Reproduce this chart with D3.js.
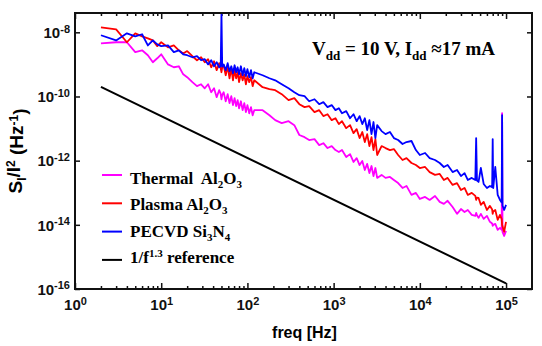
<!DOCTYPE html>
<html>
<head>
<meta charset="utf-8">
<script src="https://cdn.jsdelivr.net/npm/d3@7"></script>
<style>
  body { margin: 0; background: #fff; }
  svg { display: block; }
</style>
</head>
<body>
<div id="chart"></div>
<script>
// frequencies of the stitched spectra (Hz)
const freqs = [
  2, 3, 4, 5, 6, 7, 8, 9, 10, 12, 14, 16, 18, 20, 23, 26, 29, 32, 35, 38, 41, 44, 47, 49, 50, 51,
  53, 56, 59, 62, 65, 68, 71, 74, 77, 80, 84, 88, 92, 96, 100, 105, 110, 115, 120,
  150, 180, 210, 250, 300, 350, 400, 460, 520, 600, 680, 760, 850, 950, 1050, 1150, 1250,
  1400, 1550, 1700, 1850, 2000, 2150, 2300, 2450, 2600, 2750, 2900, 3050, 3200,
  3600, 4000, 4500, 5000, 5600, 6300, 7000, 8000, 9000, 10000, 11500, 13000, 15000, 17000,
  19000, 21000, 24000, 27000, 30000, 33000, 36000, 40000, 44000, 45000, 46000, 48000, 51000, 55000,
  60000, 65000, 69000, 70000, 71000, 75000, 80000, 85000, 89000, 90000, 91000, 95000, 100000
]

const thermal = [
  4.5e-9, 4.9e-9, 4.9e-9, 2.4e-9, 2.75e-9, 1.93e-9, 1.17e-9, 1.55e-9, 2.07e-9, 1.0e-9,
  8.15e-10, 8.75e-10, 4.9e-10, 4.0e-10, 2.8e-10, 2.1e-10, 2.4e-10, 1.8e-10, 2.4e-10, 1.36e-10,
  1.8e-10, 9.5e-11, 1.57e-10, 1.2e-10, 8.2e-11, 1.1e-10, 1.36e-10, 7.1e-11, 1.18e-10, 6.2e-11, 1.02e-10, 5.4e-11,
  8.85e-11, 5.0e-11, 7.7e-11, 4.3e-11, 7.1e-11, 3.75e-11, 6.2e-11, 3.25e-11, 5.4e-11, 3.0e-11,
  4.65e-11, 2.6e-11, 3.75e-11,
  3.75e-11, 2.6e-11, 1.83e-11, 1.48e-11, 1.7e-11, 1.28e-11, 6.3e-12, 5.4e-12, 4.4e-12, 4.7e-12,
  3.06e-12, 3.5e-12, 2.47e-12, 2.85e-12, 2.14e-12, 1.86e-12, 2.14e-12, 1.3e-12, 1.6e-12, 9.1e-13,
  1.2e-12, 7.3e-13, 9.75e-13, 5.1e-13, 7.9e-13, 4.1e-13, 6.8e-13, 3.3e-13, 5.9e-13, 2.9e-13,
  3.6e-13, 2.9e-13, 3.1e-13, 2.5e-13, 2.0e-13, 1.41e-13, 1.63e-13, 8.55e-14, 9.9e-14, 6.4e-14,
  7.4e-14, 5.97e-14, 7.95e-14, 5.2e-14, 4.5e-14, 5.6e-14, 3.6e-14, 2.2e-14, 3.1e-14, 2.5e-14,
  2.9e-14, 2.04e-14, 1.9e-14, 2.35e-14, 2.0e-14, 1.65e-14, 2.2e-14, 1.53e-14,
  1.9e-14, 1.24e-14, 1.1e-14, 9.3e-15, 1.0e-14, 1.07e-14, 7.0e-15, 8.05e-15, 7.0e-15, 3.0e-11, 6.0e-15, 4.5e-15, 6.5e-15
]

const plasma = [
  1.43e-8, 1.24e-8, 4.9e-9, 9.3e-9, 7.5e-9, 6.5e-9, 5.6e-9, 3.7e-9, 4.9e-9, 3.4e-9,
  3.9e-9, 2.75e-9, 2.2e-9, 2.6e-9, 1.8e-9, 1.35e-9, 1.67e-9, 1.17e-9, 1.45e-9, 8.15e-10,
  1.25e-9, 6.6e-10, 1.09e-9, 7.5e-10, 5.7e-10, 8.0e-10, 9.4e-10, 4.6e-10, 8.75e-10, 3.7e-10, 7.6e-10, 3.2e-10,
  6.6e-10, 3.7e-10, 5.7e-10, 2.8e-10, 5.3e-10, 3.2e-10, 4.9e-10, 2.4e-10, 4.3e-10, 2.8e-10,
  4.0e-10, 2.1e-10, 3.2e-10,
  1.95e-10, 1.7e-10, 1.57e-10, 1.18e-10, 7.7e-11, 8.85e-11, 5.75e-11, 4.65e-11, 5.0e-11, 3.25e-11,
  3.75e-11, 2.45e-11, 2.8e-11, 1.83e-11, 2.1e-11, 1.38e-11, 1.7e-11, 1.03e-11, 1.28e-11, 7.2e-12,
  9.6e-12, 5.05e-12, 7.8e-12, 3.8e-12, 6.7e-12, 2.85e-12, 5.4e-12, 2.14e-12, 4.7e-12, 1.5e-12,
  2.85e-12, 2.47e-12, 2.14e-12, 2.3e-12, 1.5e-12, 1.05e-12, 1.2e-12, 8.45e-13, 7.3e-13, 5.9e-13,
  6.35e-13, 4.4e-13, 3.6e-13, 3.85e-13, 2.5e-13, 2.9e-13, 1.75e-13, 2.0e-13, 1.22e-13, 1.41e-13,
  8.55e-14, 9.9e-14, 8.0e-14, 5.97e-14, 7.0e-14, 6.9e-14, 4.2e-14, 5.2e-14,
  2.9e-14, 3.9e-14, 3.0e-14, 2.2e-14, 2.6e-14, 2.9e-14, 1.43e-14, 2.04e-14, 1.5e-14, 1.0e-14, 9.0e-15, 6.05e-15, 1.24e-14
]

const pecvd = [
  8.1e-9, 5.6e-9, 9.3e-9, 7.5e-9, 8.7e-9, 3.9e-9, 5.6e-9, 4.2e-9, 3.7e-9, 3.9e-9,
  2.4e-9, 2.75e-9, 2.07e-9, 1.93e-9, 1.67e-9, 1.8e-9, 1.35e-9, 1.45e-9, 1.0e-9, 1.35e-9,
  8.75e-10, 1.17e-9, 8.15e-10, 9.0e-10, 3.9e-8, 8.5e-10, 1.0e-9, 6.6e-10, 1.09e-9, 6.1e-10, 8.75e-10, 5.3e-10,
  9.4e-10, 5.7e-10, 8.15e-10, 4.9e-10, 8.75e-10, 4.6e-10, 7.6e-10, 4.3e-10, 7.1e-10, 4.0e-10,
  6.6e-10, 3.7e-10, 5.7e-10,
  4.6e-10, 3.7e-10, 3.2e-10, 2.4e-10, 1.8e-10, 1.36e-10, 1.1e-10, 1.02e-10, 7.1e-11, 8.2e-11,
  5.75e-11, 6.65e-11, 4.65e-11, 5.4e-11, 3.75e-11, 4.3e-11, 3.0e-11, 3.5e-11, 2.1e-11, 2.8e-11,
  1.7e-11, 2.45e-11, 1.38e-11, 2.1e-11, 9.0e-12, 1.83e-11, 6.7e-12, 1.6e-11, 5.05e-12, 1.28e-11,
  8.35e-12, 6.7e-12, 7.8e-12, 5.05e-12, 4.4e-12, 3.3e-12, 3.8e-12, 4.1e-12, 2.14e-12, 1.5e-12,
  1.73e-12, 1.2e-12, 1.05e-12, 8.45e-13, 6.35e-13, 7.3e-13, 4.4e-13, 5.1e-13, 3.3e-13, 4.1e-13,
  2.5e-13, 2.9e-13, 2.5e-13, 5.05e-12, 2.4e-13, 2.17e-13, 5.9e-13, 1.88e-13,
  1.41e-13, 1.63e-13, 1.5e-13, 4.7e-12, 1.4e-13, 6.35e-13, 8.55e-14, 5.97e-14, 5.0e-14, 2.6e-11, 4.0e-14, 2.9e-14, 4.2e-14
]

// 1/f^1.3 reference line end points
const refFreq = [2, 1e5]
const refVal = [2e-10, 1.5e-16]

const xTicks = [1, 10, 100, 1e3, 1e4, 1e5]
const yTicks = [1e-16, 1e-14, 1e-12, 1e-10, 1e-8]

const W = 542, H = 346
const margin = {left: 75, top: 13, right: 10, bottom: 57}
const width = W - margin.left - margin.right
const height = H - margin.top - margin.bottom

const x = d3.scaleLog().domain([1, 2e5]).range([0, width])
const y = d3.scaleLog().domain([1e-16, 4e-8]).range([height, 0])

const svg = d3.select("#chart").append("svg")
    .attr("width", W).attr("height", H)
  .append("g")
    .attr("transform", `translate(${margin.left},${margin.top})`)

svg.append("clipPath").attr("id", "clip")
  .append("rect").attr("width", width).attr("height", height)

// minor x ticks (2..9 per decade)
const minor = []
for (let e = 0; e <= 5; e++) for (let m = 2; m <= 9; m++) { if (m * 10 ** e < 2e5) minor.push(m * 10 ** e) }

const sans = "Liberation Sans, Arial, sans-serif"

const supLabel = (sel) => {
  sel.selectAll(".tick text").each(function (d) {
    const t = d3.select(this)
    const e = Math.round(Math.log10(d))
    t.text(null)
      .style("font-family", sans).style("font-weight", "bold").style("font-size", "15px")
      .attr("fill", "#111")
    t.append("tspan").text("10")
    t.append("tspan").attr("dy", "-0.5em").style("font-size", "11px").text(e)
  })
}

// bottom
svg.append("g").attr("transform", `translate(0,${height})`)
  .call(d3.axisBottom(x).tickValues(minor).tickSize(-3).tickFormat(""))
svg.append("g").attr("transform", `translate(0,${height})`)
  .call(d3.axisBottom(x).tickValues(xTicks).tickSize(-6).tickPadding(16))
  .call(supLabel)
// top
svg.append("g")
  .call(d3.axisTop(x).tickValues(minor).tickSize(-3).tickFormat(""))
svg.append("g")
  .call(d3.axisTop(x).tickValues(xTicks).tickSize(-6).tickFormat(""))
// left
svg.append("g")
  .call(d3.axisLeft(y).tickValues(yTicks).tickSize(-5).tickPadding(5))
  .call(supLabel)
// right
svg.append("g").attr("transform", `translate(${width},0)`)
  .call(d3.axisRight(y).tickValues(yTicks).tickSize(-5).tickFormat(""))

svg.selectAll(".domain").remove()
svg.selectAll(".tick line").attr("stroke", "#111").attr("stroke-width", 1.5)
svg.selectAll(".tick text").attr("dy", "0.35em")

const line = d3.line()
  .x(d => x(d[0]))
  .y(d => y(d[1]))

const series = [
  {name: "thermal", vals: thermal, color: "#ff00ff"},
  {name: "plasma", vals: plasma, color: "#ff0000"},
  {name: "pecvd", vals: pecvd, color: "#0000ff"}
]

series.forEach(s => {
  svg.append("path")
    .datum(freqs.map((f, i) => [f, s.vals[i]]))
    .attr("clip-path", "url(#clip)")
    .attr("fill", "none")
    .attr("stroke", s.color)
    .attr("stroke-width", 1.8)
    .attr("stroke-linejoin", "round")
    .attr("d", line)
})

svg.append("path")
  .datum(refFreq.map((f, i) => [f, refVal[i]]))
  .attr("fill", "none")
  .attr("stroke", "#000")
  .attr("stroke-width", 2)
  .attr("d", line)

// frame
svg.append("rect")
  .attr("width", width).attr("height", height)
  .attr("fill", "none").attr("stroke", "#111").attr("stroke-width", 2)

// axis labels
svg.append("text")
  .attr("x", width / 2 + 1).attr("y", height + 49)
  .attr("text-anchor", "middle")
  .style("font-family", sans)
  .style("font-weight", "bold").style("font-size", "16px")
  .text("freq [Hz]")

const yl = svg.append("text")
  .attr("transform", `translate(${-53},${height / 2}) rotate(-90)`)
  .attr("text-anchor", "middle")
  .style("font-family", sans)
  .style("font-weight", "bold").style("font-size", "19px")
yl.append("tspan").text("S")
yl.append("tspan").attr("dy", "0.3em").style("font-size", "12px").text("I")
yl.append("tspan").attr("dy", "-0.3em").text("/I")
yl.append("tspan").attr("dy", "-0.45em").style("font-size", "12px").text("2")
yl.append("tspan").attr("dy", "0.45em").text(" (Hz")
yl.append("tspan").attr("dy", "-0.45em").style("font-size", "12px").text("-1")
yl.append("tspan").attr("dy", "0.45em").text(")")

// annotation
const serif = "Liberation Serif, Times New Roman, serif"
const ann = svg.append("text")
  .attr("x", 312 - margin.left).attr("y", 55 - margin.top)
  .style("font-family", serif).style("font-weight", "bold").style("font-size", "19px")
ann.append("tspan").text("V")
ann.append("tspan").attr("dy", 5).style("font-size", "13px").text("dd")
ann.append("tspan").attr("dy", -5).text(" = 10 V, I")
ann.append("tspan").attr("dy", 5).style("font-size", "13px").text("dd")
ann.append("tspan").attr("dy", -5).text(" \u224817 mA")

// legend
const legendKeys = [
  {parts: [["Thermal\u00a0 Al", 0], ["2", 1], ["O", 0], ["3", 1]], color: "#ff00ff"},
  {parts: [["Plasma Al", 0], ["2", 1], ["O", 0], ["3", 1]], color: "#ff0000"},
  {parts: [["PECVD Si", 0], ["3", 1], ["N", 0], ["4", 1]], color: "#0000ff"},
  {parts: [["1/f", 0], ["1.3", -1], [" reference", 0]], color: "#000"}
]

const lg = svg.selectAll(".lineLegend")
  .data(legendKeys)
  .enter().append("g")
  .attr("class", "lineLegend")
  .attr("transform", (d, i) => `translate(${102 - margin.left},${175 - margin.top + i * 28.3})`)

lg.append("line")
  .attr("x1", 0).attr("x2", 20)
  .attr("stroke", d => d.color).attr("stroke-width", 2)

lg.append("text")
  .attr("x", 28).attr("y", (d, i) => 9 - i * 2)
  .style("font-family", serif).style("font-weight", "bold").style("font-size", "17px")
  .each(function (d) {
    const t = d3.select(this)
    let shift = 0
    d.parts.forEach(([txt, kind]) => {
      const target = kind === 1 ? 4 : kind === -1 ? -6 : 0
      t.append("tspan")
        .attr("dy", target - shift)
        .style("font-size", kind === 0 ? "17px" : "11px")
        .text(txt)
      shift = target
    })
  })
</script>
</body>
</html>
